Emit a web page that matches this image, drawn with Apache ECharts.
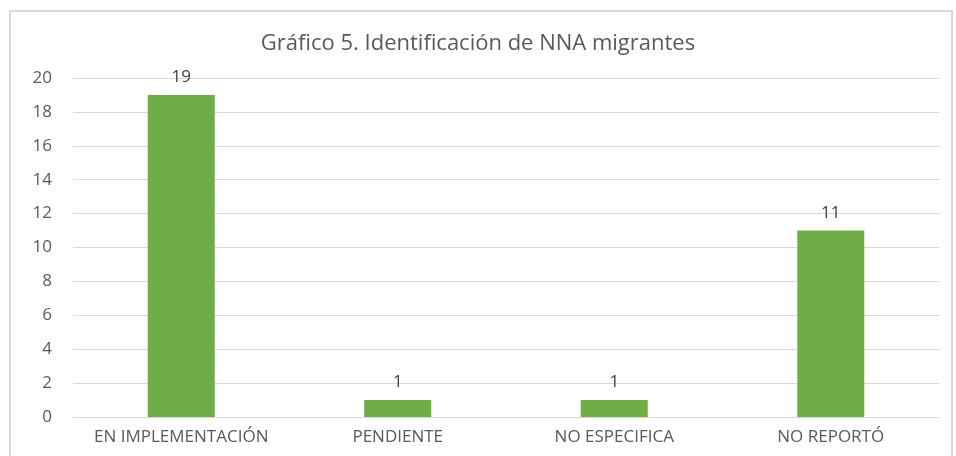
<!DOCTYPE html>
<html>
<head>
<meta charset="utf-8">
<script src="https://cdn.jsdelivr.net/npm/echarts@6/dist/echarts.min.js"></script>
<style>
  html, body { margin: 0; padding: 0; background: #fff; }
  #chart { width: 956px; height: 456px; }
</style>
</head>
<body>
<div id="chart"></div>
<script>
const categories = ['EN IMPLEMENTACIÓN', 'PENDIENTE', 'NO ESPECIFICA', 'NO REPORTÓ'];
const values = [19, 1, 1, 11];
const yTicks = [0, 2, 4, 6, 8, 10, 12, 14, 16, 18, 20];

const chart = echarts.init(document.getElementById('chart'));
const font = '"Open Sans", "Noto Sans", sans-serif';

chart.setOption({
  animation: false,
  textStyle: { fontFamily: font },
  title: {
    text: 'Gráfico 5. Identificación de NNA migrantes',
    left: 'center',
    top: 28,
    textStyle: { fontFamily: font, fontSize: 22, fontWeight: 'normal', color: '#595959' }
  },
  // outer frame
  graphic: [{
    type: 'rect',
    shape: { x: 10, y: 11, width: 942, height: 460 },
    style: { fill: 'none', stroke: '#d9d9d9', lineWidth: 2 },
    silent: true
  }],
  grid: { left: 73, right: 17, top: 78, bottom: 39, containLabel: false },
  xAxis: {
    type: 'category',
    data: categories,
    axisLine: { lineStyle: { color: '#d9d9d9', width: 1 } },
    axisTick: { show: false },
    axisLabel: { color: '#595959', fontSize: 17, margin: 12, interval: 0 }
  },
  yAxis: {
    type: 'value',
    min: yTicks[0],
    max: yTicks[yTicks.length - 1],
    interval: 2,
    axisLine: { show: false },
    axisTick: { show: false },
    splitLine: { lineStyle: { color: '#d9d9d9', width: 1 } },
    axisLabel: { color: '#595959', fontSize: 17, margin: 21 }
  },
  series: [{
    type: 'bar',
    data: values,
    barWidth: 67,
    itemStyle: { color: '#70ad47' },
    label: {
      show: true,
      position: 'top',
      distance: 9,
      color: '#404040',
      fontSize: 17
    }
  }]
});
</script>
</body>
</html>
